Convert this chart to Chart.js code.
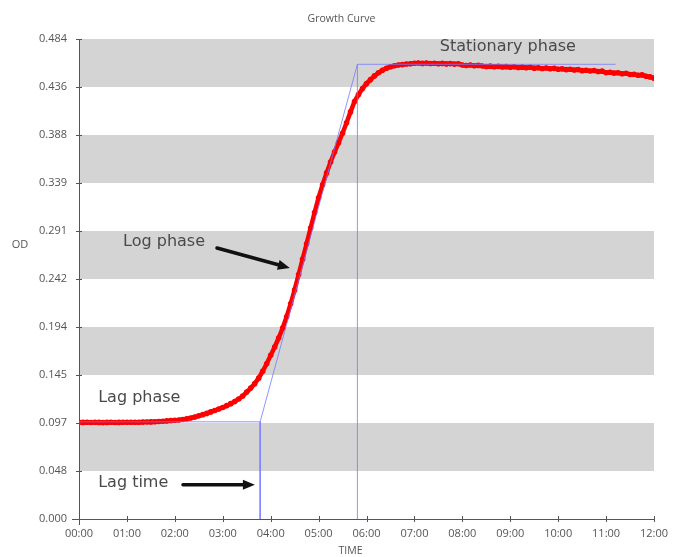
<!DOCTYPE html>
<html>
<head>
<meta charset="utf-8">
<script src="https://cdn.jsdelivr.net/npm/chart.js@4"></script>
<style>
  html, body { margin: 0; padding: 0; background: #ffffff; }
  #wrap { width: 677px; height: 557px; }
</style>
</head>
<body>
<div id="wrap"><canvas id="growth" width="677" height="557"></canvas></div>
<script>
// ---- data -------------------------------------------------------------
const chartTitle = 'Growth Curve';
const xAxisTitle = 'TIME';
const yAxisTitle = 'OD';

const xTickLabels = ['00:00', '01:00', '02:00', '03:00', '04:00', '05:00', '06:00',
                     '07:00', '08:00', '09:00', '10:00', '11:00', '12:00'];
const yTickLabels = ['0.000', '0.048', '0.097', '0.145', '0.194', '0.242',
                     '0.291', '0.339', '0.388', '0.436', '0.484'];
const yMax = 0.484;
const xMaxHours = 12;

// one OD reading every 5 minutes, 00:00 .. 12:00
const sampleMinutes = 5;
const odReadings = [
  0.0976, 0.0974, 0.0975, 0.0973, 0.0975, 0.0974, 0.0972, 0.0974, 0.0975, 0.0973, 0.0974, 0.0975,
  0.0975, 0.0975, 0.0976, 0.0976, 0.0977, 0.0978, 0.0979, 0.0981, 0.0983, 0.0986, 0.0989, 0.0992,
  0.0995, 0.0999, 0.1004, 0.1010, 0.1019, 0.1029, 0.1040, 0.1052, 0.1065, 0.1080, 0.1094, 0.1109,
  0.1125, 0.1143, 0.1163, 0.1185, 0.1210, 0.1240, 0.1280, 0.1320, 0.1365, 0.1420, 0.1490, 0.1565,
  0.1650, 0.1735, 0.1825, 0.1925, 0.2040, 0.2170, 0.2310, 0.2465, 0.2620, 0.2775, 0.2935, 0.3090,
  0.3240, 0.3370, 0.3490, 0.3600, 0.3700, 0.3795, 0.3890, 0.3995, 0.4105, 0.4210, 0.4280, 0.4340,
  0.4390, 0.4430, 0.4468, 0.4500, 0.4525, 0.4545, 0.4560, 0.4570, 0.4577, 0.4582, 0.4588, 0.4591,
  0.4595, 0.4598, 0.4594, 0.4597, 0.4593, 0.4596, 0.4591, 0.4594, 0.4589, 0.4592, 0.4587, 0.4590,
  0.4578, 0.4573, 0.4577, 0.4570, 0.4574, 0.4567, 0.4562, 0.4566, 0.4560, 0.4564, 0.4557, 0.4561,
  0.4555, 0.4559, 0.4552, 0.4556, 0.4550, 0.4554, 0.4546, 0.4550, 0.4543, 0.4547, 0.4540, 0.4544,
  0.4535, 0.4539, 0.4531, 0.4535, 0.4527, 0.4531, 0.4521, 0.4525, 0.4518, 0.4522, 0.4512, 0.4516,
  0.4500, 0.4504, 0.4496, 0.4499, 0.4490, 0.4494, 0.4482, 0.4485, 0.4475, 0.4478, 0.4465, 0.4458,
  0.4445
];

// tangent construction: lag level, lag time, stationary level
const lagOD = 0.098;
const lagTimeHours = 3.78;
const stationaryOD = 0.4585;
const stationaryStartHours = 5.81;
const stationaryEndHours = 11.2;

// phase annotations (text, anchor in hours / OD)
const phaseNotes = ['Stationary phase', 'Log phase', 'Lag phase', 'Lag time'];
const noteAnchors = [
  { x: 8.95, y: 0.4765, align: 'center', size: 16 },
  { x: 0.92, y: 0.2790, align: 'left', size: 16 },
  { x: 0.40, y: 0.1220, align: 'left', size: 16 },
  { x: 0.40, y: 0.0365, align: 'left', size: 16 }
];
const arrowAnchors = [
  { from: [2.88, 0.2733], to: [4.40, 0.2531] },
  { from: [2.17, 0.0345], to: [3.67, 0.0345] }
];

// ---- drawing helpers ---------------------------------------------------
const growthPoints = odReadings.map((v, i) => ({ x: i * sampleMinutes / 60, y: v }));

const blueStyle = {
  showLine: true,
  borderColor: 'rgba(120, 120, 255, 0.8)',
  borderWidth: 1,
  pointRadius: 0,
  pointHoverRadius: 0,
  fill: false,
  order: 0
};

const bandPlugin = {
  id: 'bands',
  beforeDatasetsDraw(chart) {
    const { ctx, chartArea, scales } = chart;
    const ys = scales.y;
    const ticks = ys.ticks;
    ctx.save();
    ctx.fillStyle = '#d4d4d4';
    for (let i = 1; i < ticks.length - 1; i += 2) {
      const top = ys.getPixelForValue(ticks[i + 1].value);
      const bottom = ys.getPixelForValue(ticks[i].value);
      ctx.fillRect(chartArea.left + 1, top, chartArea.right - chartArea.left - 1, bottom - top);
    }
    ctx.restore();
  }
};

function drawArrow(ctx, x1, y1, x2, y2) {
  const ang = Math.atan2(y2 - y1, x2 - x1);
  const head = 12, half = 5;
  const bx = x2 - head * Math.cos(ang), by = y2 - head * Math.sin(ang);
  ctx.beginPath();
  ctx.moveTo(x1, y1);
  ctx.lineTo(bx, by);
  ctx.stroke();
  ctx.beginPath();
  ctx.moveTo(x2, y2);
  ctx.lineTo(bx + half * Math.sin(ang), by - half * Math.cos(ang));
  ctx.lineTo(bx - half * Math.sin(ang), by + half * Math.cos(ang));
  ctx.closePath();
  ctx.fill();
}

const decorPlugin = {
  id: 'decor',
  afterDraw(chart) {
    const { ctx, chartArea, scales } = chart;
    const xs = scales.x, ys = scales.y;
    ctx.save();

    // small cross ticks on both axes
    ctx.strokeStyle = '#555';
    ctx.lineWidth = 1;
    ctx.beginPath();
    ys.ticks.forEach(t => {
      const py = Math.round(ys.getPixelForValue(t.value)) + 0.5;
      ctx.moveTo(chartArea.left - 3, py);
      ctx.lineTo(chartArea.left + 3, py);
    });
    xs.ticks.forEach(t => {
      const px = Math.round(xs.getPixelForValue(t.value)) + 0.5;
      ctx.moveTo(px, chartArea.bottom - 3);
      ctx.lineTo(px, chartArea.bottom + 3);
    });
    ctx.moveTo(chartArea.left - 7, Math.round(chartArea.bottom) + 0.5);
    ctx.lineTo(chartArea.left, Math.round(chartArea.bottom) + 0.5);
    ctx.moveTo(Math.round(chartArea.left) + 0.5, chartArea.bottom);
    ctx.lineTo(Math.round(chartArea.left) + 0.5, chartArea.bottom + 6);
    ctx.stroke();

    // titles
    ctx.fillStyle = '#555';
    ctx.font = '10.5px "Open Sans", sans-serif';
    ctx.textAlign = 'center';
    ctx.textBaseline = 'middle';
    ctx.fillText(chartTitle, chart.width / 2 + 3, 19);
    ctx.fillText(xAxisTitle, (chartArea.left + chartArea.right) / 2 - 16, 551);
    ctx.font = '11px "Open Sans", sans-serif';
    ctx.fillText(yAxisTitle, 20, 245);

    // phase notes
    ctx.fillStyle = '#4a4a4a';
    phaseNotes.forEach((txt, i) => {
      const a = noteAnchors[i];
      ctx.font = a.size + 'px "DejaVu Sans", sans-serif';
      ctx.textAlign = a.align;
      ctx.textBaseline = 'middle';
      ctx.fillText(txt, xs.getPixelForValue(a.x), ys.getPixelForValue(a.y));
    });

    // arrows
    ctx.strokeStyle = '#111';
    ctx.fillStyle = '#111';
    ctx.lineWidth = 3.5;
    ctx.lineCap = 'round';
    arrowAnchors.forEach(a => {
      drawArrow(ctx,
        xs.getPixelForValue(a.from[0]), ys.getPixelForValue(a.from[1]),
        xs.getPixelForValue(a.to[0]), ys.getPixelForValue(a.to[1]));
    });
    ctx.restore();
  }
};

// ---- chart -------------------------------------------------------------
new Chart(document.getElementById('growth'), {
  type: 'scatter',
  data: {
    datasets: [
      {
        label: 'OD',
        data: growthPoints,
        showLine: true,
        borderColor: '#ff0000',
        backgroundColor: '#ff0000',
        borderWidth: 4.5,
        pointRadius: 2.8,
        pointBorderWidth: 0,
        pointHoverRadius: 0,
        order: 1
      },
      Object.assign({ label: 'lag', data: [
        { x: 0, y: lagOD }, { x: lagTimeHours, y: lagOD }, { x: lagTimeHours, y: 0 }
      ] }, blueStyle),
      Object.assign({ label: 'tangent', data: [
        { x: lagTimeHours, y: lagOD }, { x: stationaryStartHours, y: stationaryOD }
      ] }, blueStyle),
      Object.assign({ label: 'stationary', data: [
        { x: stationaryStartHours, y: 0 }, { x: stationaryStartHours, y: stationaryOD },
        { x: stationaryEndHours, y: stationaryOD }
      ] }, blueStyle)
    ]
  },
  options: {
    responsive: false,
    animation: false,
    events: [],
    layout: { padding: { left: 0, right: 23, top: 39, bottom: 0 } },
    plugins: {
      legend: { display: false },
      tooltip: { enabled: false },
      title: { display: false }
    },
    scales: {
      x: {
        type: 'linear',
        min: 0,
        max: xMaxHours,
        grid: { display: false, drawTicks: false },
        border: { display: true, color: '#555', width: 1 },
        ticks: {
          stepSize: 1,
          autoSkip: false,
          maxRotation: 0,
          padding: 8,
          color: '#555',
          font: { family: '"Open Sans", sans-serif', size: 11 },
          callback: (v, i) => xTickLabels[i]
        },
        afterFit: s => { s.height = 38; }
      },
      y: {
        type: 'linear',
        min: 0,
        max: yMax,
        grid: { display: false, drawTicks: false },
        border: { display: true, color: '#555', width: 1 },
        ticks: {
          stepSize: yMax / 10,
          autoSkip: false,
          padding: 12,
          color: '#555',
          font: { family: '"Open Sans", sans-serif', size: 11 },
          callback: (v, i) => yTickLabels[i]
        },
        afterFit: s => { s.width = 79; }
      }
    }
  },
  plugins: [bandPlugin, decorPlugin]
});
</script>
</body>
</html>
